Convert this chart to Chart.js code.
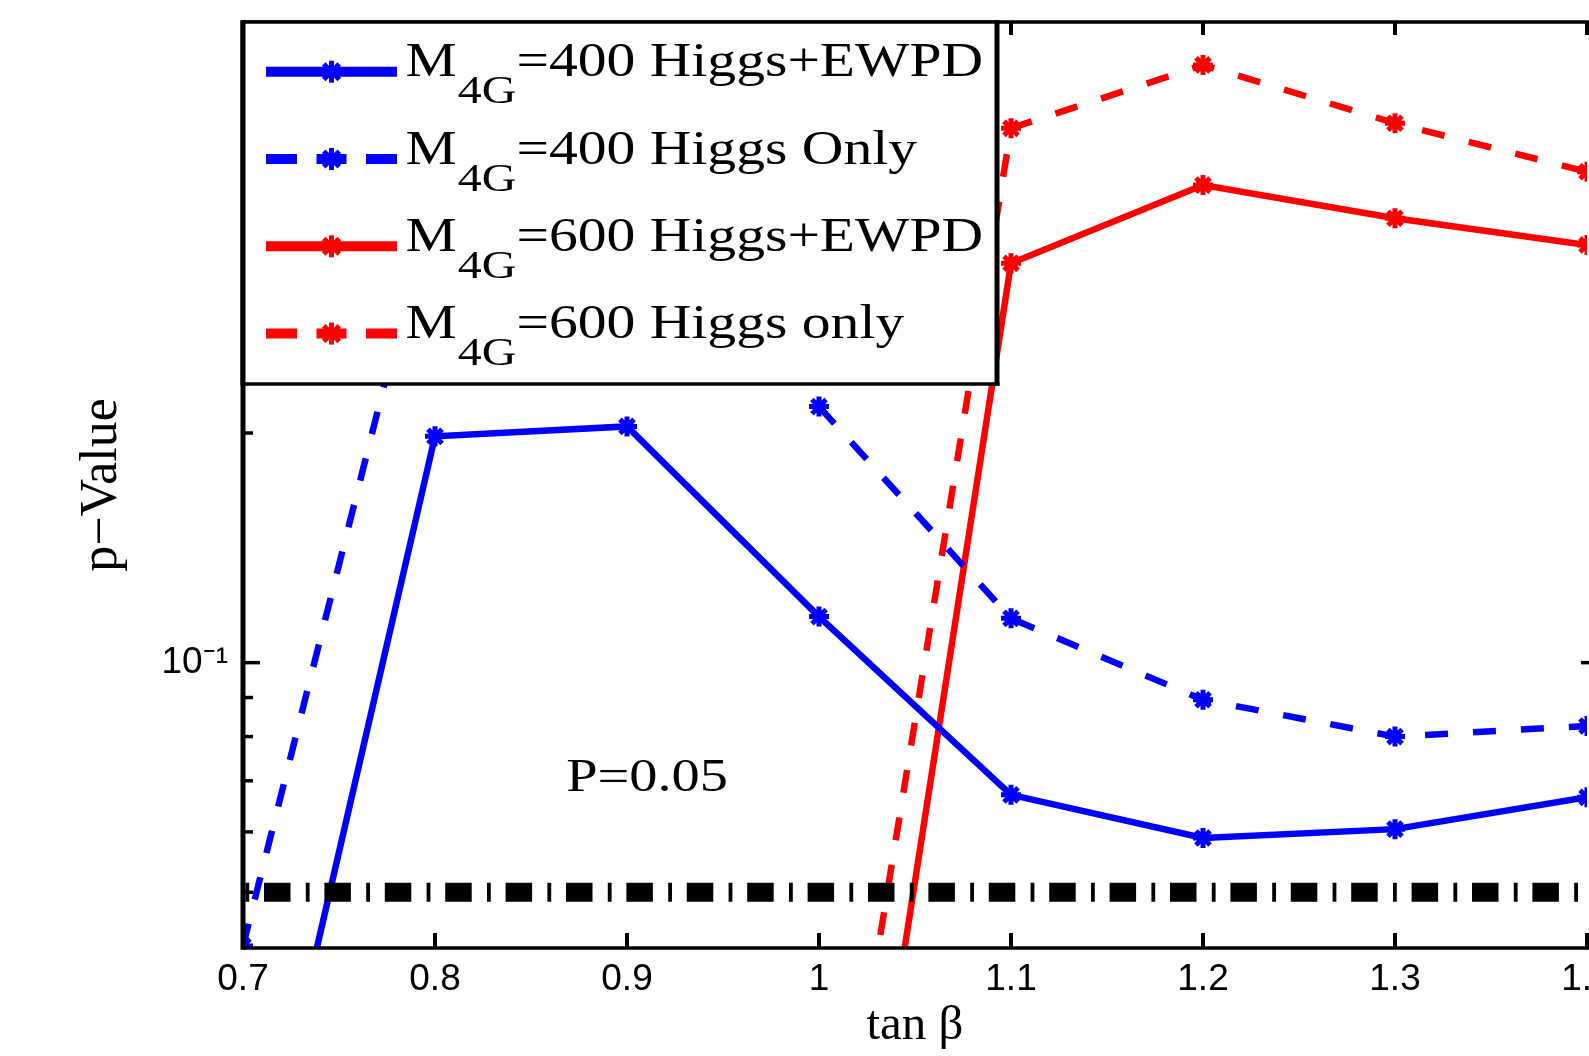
<!DOCTYPE html>
<html>
<head>
<meta charset="utf-8">
<script src="https://cdn.jsdelivr.net/npm/chart.js@4/dist/chart.umd.min.js"></script>
<style>
  html, body { margin: 0; padding: 0; background: #fff; }
  canvas { display: block; }
</style>
</head>
<body>
<canvas id="c" width="1589" height="1056"></canvas>
<script>
// ---------- data ----------
const xValues = [0.7, 0.8, 0.9, 1.0, 1.1, 1.2, 1.3, 1.4];
const xTickLabels = ['0.7', '0.8', '0.9', '1', '1.1', '1.2', '1.3', '1.4'];
const yLabelTicks = [0.1];
const yLabelText = ['10\u207B\u00B9'];
const yMinorTicks = [0.05, 0.06, 0.07, 0.08, 0.09, 0.2, 0.3, 0.4, 0.5, 0.6];
const yMajorTicks = [0.1];

const m400HiggsEWPD = [0.0161, 0.198, 0.204, 0.1149, 0.0671, 0.0589, 0.0605, 0.0666];
const m400HiggsOnly = [0.0425, 0.425, null, 0.2166, 0.1143, 0.0894, 0.0800, 0.0826];
const m600HiggsEWPD = [null, null, null, 0.0080, 0.3338, 0.4227, 0.3824, 0.3528];
const m600HiggsOnly = [null, null, null, 0.0140, 0.5017, 0.6074, 0.5094, 0.4400];
const pThreshold = 0.05;

const seriesLabels = ['M4G=400 Higgs+EWPD', 'M4G=400 Higgs Only', 'M4G=600 Higgs+EWPD', 'M4G=600 Higgs only'];
const legendMain = ['M', 'M', 'M', 'M'];
const legendSub = ['4G', '4G', '4G', '4G'];
const legendRest = ['=400 Higgs+EWPD', '=400 Higgs Only', '=600 Higgs+EWPD', '=600 Higgs only'];
const thresholdText = 'P=0.05';
const thresholdTextPos = [0.8683, 0.0678];

const BLUE = '#0000ff', RED = '#ff0000';
const seriesColors = [BLUE, BLUE, RED, RED];
const seriesDashed = [false, true, false, true];
const DASH = [23, 25];

const toPts = arr => xValues.map((x, i) => ({ x: x, y: arr[i] }));

function series(label, arr, color, dashed, order) {
  return {
    label: label,
    data: toPts(arr),
    borderColor: color,
    backgroundColor: color,
    borderWidth: 6.5,
    borderDash: dashed ? DASH : [],
    pointStyle: 'star',
    pointRadius: 10,
    pointBorderWidth: 5,
    pointBorderColor: color,
    pointBackgroundColor: color,
    fill: false,
    tension: 0,
    spanGaps: false,
    order: order
  };
}

const datasets = [
  {
    label: 'P=0.05',
    data: [{ x: xValues[0], y: pThreshold }, { x: xValues[xValues.length - 1], y: pThreshold }],
    borderColor: '#000',
    borderWidth: 19,
    borderDash: [26.5, 15.3, 3.8, 14.8],
    borderDashOffset: 39.4,
    pointRadius: 0,
    fill: false,
    order: 0
  },
  series(seriesLabels[0], m400HiggsEWPD, seriesColors[0], seriesDashed[0], 1),
  series(seriesLabels[1], m400HiggsOnly, seriesColors[1], seriesDashed[1], 2),
  series(seriesLabels[2], m600HiggsEWPD, seriesColors[2], seriesDashed[2], 3),
  series(seriesLabels[3], m600HiggsOnly, seriesColors[3], seriesDashed[3], 4)
];

// ---------- frame, inward ticks, legend, annotation ----------
function seg(ctx, x1, y1, x2, y2) {
  ctx.beginPath(); ctx.moveTo(x1, y1); ctx.lineTo(x2, y2); ctx.stroke();
}
function star(ctx, cx, cy, r) {
  const d = r * Math.SQRT1_2;
  seg(ctx, cx - r, cy, cx + r, cy);
  seg(ctx, cx, cy - r, cx, cy + r);
  seg(ctx, cx - d, cy - d, cx + d, cy + d);
  seg(ctx, cx - d, cy + d, cx + d, cy - d);
}

const STRETCH = 1.2;

const framePlugin = {
  id: 'framePlugin',
  afterDatasetsDraw(chart) {
    const ctx = chart.ctx;
    const a = chart.chartArea;
    const xs = chart.scales.x, ys = chart.scales.y;
    ctx.save();
    ctx.lineCap = 'butt';
    ctx.setLineDash([]);

    // annotation text
    ctx.save();
    ctx.fillStyle = '#000';
    ctx.font = '47px "Liberation Serif"';
    ctx.textBaseline = 'alphabetic';
    ctx.translate(xs.getPixelForValue(thresholdTextPos[0]), ys.getPixelForValue(thresholdTextPos[1]));
    ctx.scale(STRETCH, 1);
    ctx.fillText(thresholdText, 0, 0);
    ctx.restore();

    // ticks (inward)
    ctx.strokeStyle = '#000';
    ctx.lineWidth = 4;
    xValues.forEach(v => {
      const p = xs.getPixelForValue(v);
      seg(ctx, p, a.bottom, p, a.bottom - 15);
      seg(ctx, p, a.top, p, a.top + 13);
    });
    ctx.lineWidth = 3.5;
    yMinorTicks.forEach(v => {
      const p = ys.getPixelForValue(v);
      seg(ctx, a.left, p, a.left + 10, p);
    });
    yMajorTicks.forEach(v => {
      const p = ys.getPixelForValue(v);
      seg(ctx, a.left, p, a.left + 17, p);
      seg(ctx, chart.width, p, chart.width - 8, p);
    });

    // frame
    ctx.lineWidth = 3.6;
    seg(ctx, a.left, a.bottom, chart.width, a.bottom);
    seg(ctx, a.left, a.top, chart.width, a.top);
    ctx.lineWidth = 5;
    seg(ctx, a.left, a.top - 1.8, a.left, a.bottom + 1.8);

    // legend box
    const L = a.left, T = a.top, R = a.left + 754, B = a.top + 362;
    ctx.fillStyle = '#fff';
    ctx.fillRect(L, T, R - L, B - T);
    ctx.strokeStyle = '#000';
    ctx.lineWidth = 3.6;
    seg(ctx, L, T, R + 2.5, T);
    seg(ctx, L, B, R + 2.5, B);
    ctx.lineWidth = 5;
    seg(ctx, L, T - 1.8, L, B + 1.8);
    seg(ctx, R, T - 1.8, R, B + 1.8);

    const rowY0 = T + 49.7, rowH = 87.3;
    const sx1 = L + 23, sx2 = L + 154, scx = (sx1 + sx2) / 2;
    for (let i = 0; i < 4; i++) {
      const yy = rowY0 + i * rowH;
      const col = seriesColors[i];
      ctx.strokeStyle = col;
      ctx.lineWidth = 10;
      ctx.setLineDash(seriesDashed[i] ? [31, 19.5, 30, 19.5] : []);
      seg(ctx, sx1, yy, sx2, yy);
      ctx.setLineDash([]);
      ctx.lineWidth = 5;
      star(ctx, scx, yy, 11);

      // text with subscript
      ctx.save();
      ctx.fillStyle = '#000';
      ctx.textBaseline = 'alphabetic';
      ctx.translate(L + 162.4, yy + 4.5);
      ctx.scale(STRETCH, 1);
      ctx.font = '48px "Liberation Serif"';
      ctx.fillText(legendMain[i], 0, 0);
      const w1 = ctx.measureText(legendMain[i]).width;
      ctx.font = '40px "Liberation Serif"';
      ctx.fillText(legendSub[i], w1 + 1, 27);
      const w2 = ctx.measureText(legendSub[i]).width;
      ctx.font = '48px "Liberation Serif"';
      ctx.fillText(legendRest[i], w1 + w2 + 1, 0);
      ctx.restore();
    }
    ctx.restore();
  }
};

function noScalePadding(s) {
  s.paddingLeft = 0; s.paddingRight = 0; s.paddingTop = 0; s.paddingBottom = 0;
}

new Chart(document.getElementById('c'), {
  type: 'line',
  data: { datasets: datasets },
  options: {
    responsive: false,
    animation: false,
    devicePixelRatio: 1,
    layout: { padding: { top: 22, right: 2, bottom: 0, left: 0 }, autoPadding: false },
    plugins: { legend: { display: false }, tooltip: { enabled: false } },
    elements: { line: { tension: 0 } },
    scales: {
      x: {
        type: 'linear',
        min: 0.7,
        max: 1.4,
        afterBuildTicks: s => { s.ticks = xValues.map(v => ({ value: v })); },
        afterFit: s => { s.height = 108; noScalePadding(s); },
        grid: { display: false, drawTicks: false },
        border: { display: false },
        ticks: {
          autoSkip: false,
          maxRotation: 0,
          padding: 10,
          color: '#000',
          font: { family: 'Liberation Sans', size: 37 },
          callback: (v) => {
            const i = xValues.findIndex(t => Math.abs(t - v) < 1e-9);
            return i >= 0 ? xTickLabels[i] : '';
          }
        },
        title: {
          display: true,
          text: 'tan \u03B2',
          color: '#000',
          font: { family: 'Liberation Serif', size: 49 },
          padding: { top: 0, bottom: 0 }
        }
      },
      y: {
        type: 'logarithmic',
        min: 0.04226,
        max: 0.6915,
        afterBuildTicks: s => { s.ticks = yLabelTicks.map(v => ({ value: v, major: true })); },
        afterFit: s => { s.width = 243; noScalePadding(s); },
        grid: { display: false, drawTicks: false },
        border: { display: false },
        ticks: {
          padding: 15,
          color: '#000',
          font: { family: 'Liberation Sans', size: 37 },
          callback: (v) => {
            const i = yLabelTicks.findIndex(t => Math.abs(t - v) < 1e-9);
            return i >= 0 ? yLabelText[i] : '';
          }
        },
        title: {
          display: true,
          text: 'p\u2212Value',
          color: '#000',
          font: { family: 'Liberation Serif', size: 52 },
          padding: { top: 71, bottom: 0 }
        }
      }
    }
  },
  plugins: [framePlugin]
});
</script>
</body>
</html>
